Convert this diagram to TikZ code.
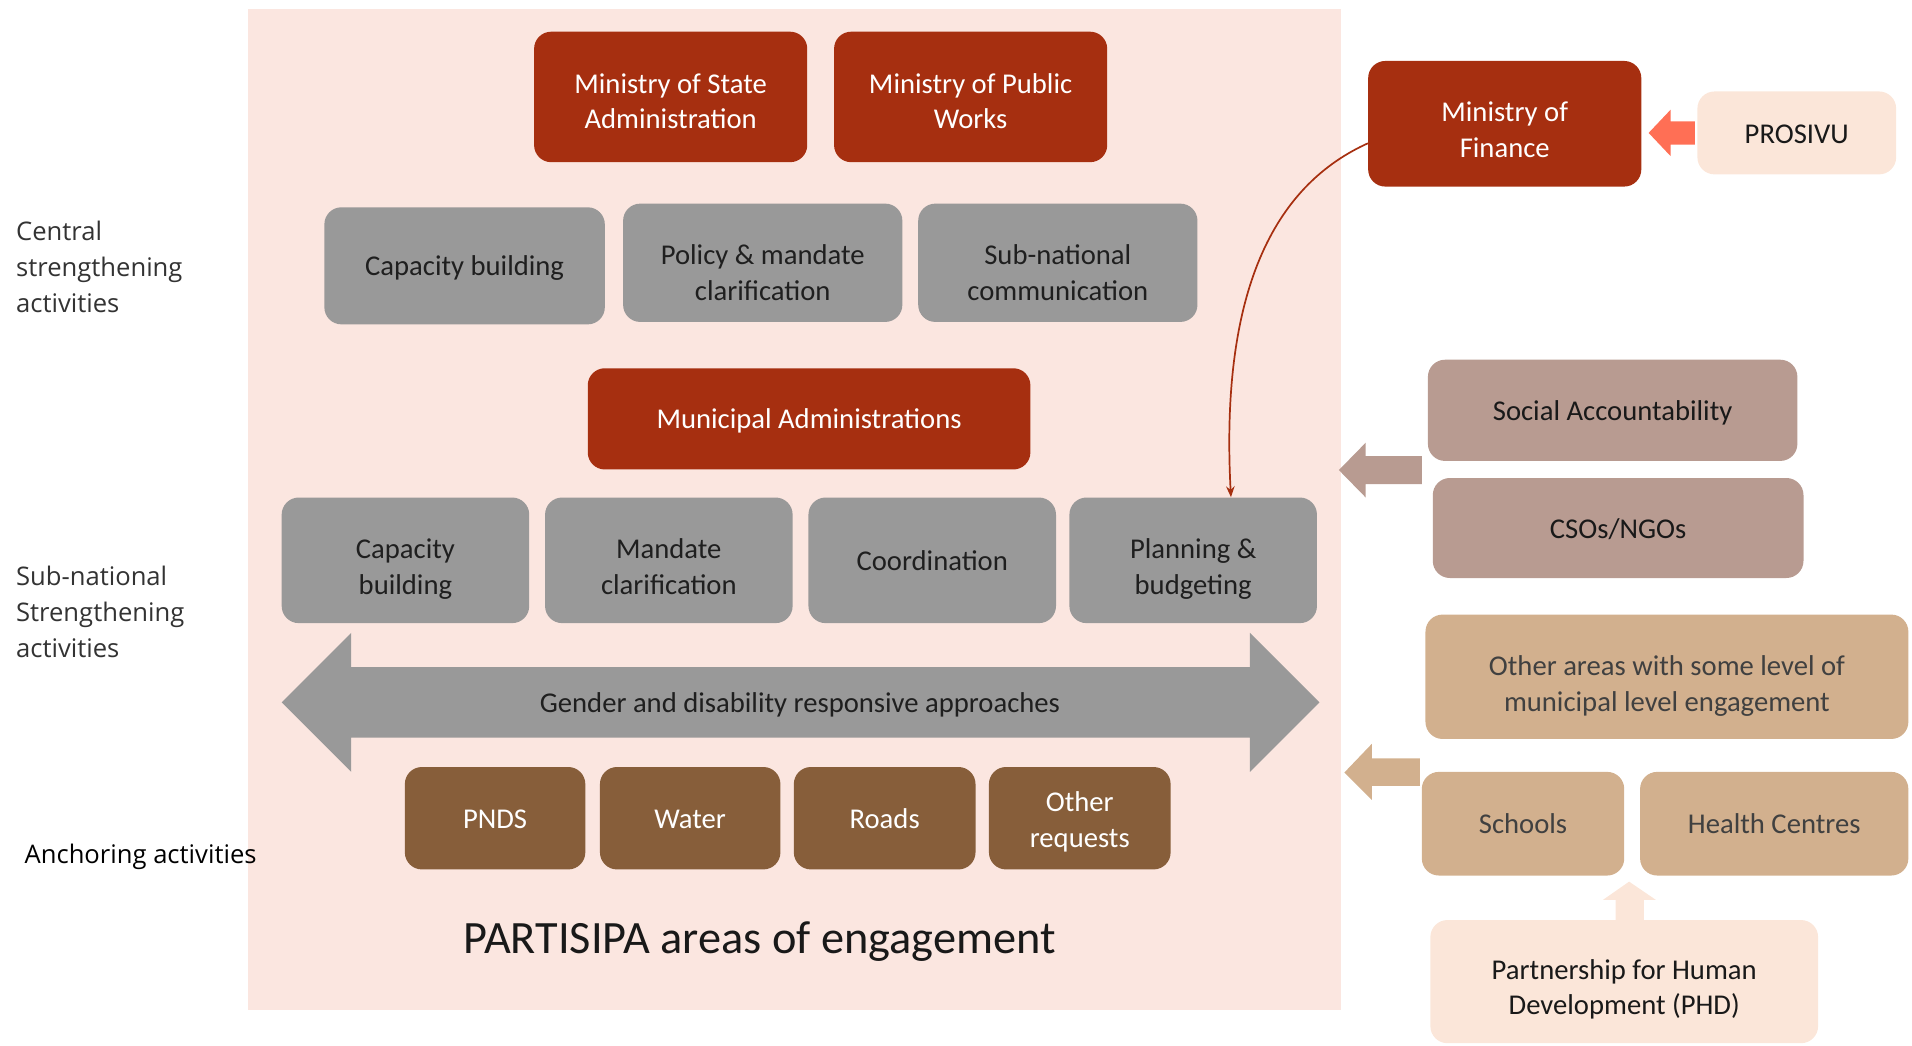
\documentclass[tikz,border=0pt]{standalone}
\usepackage{fontspec}
\setmainfont{Carlito}
\newfontfamily\sidefont{Open Sans}
\usetikzlibrary{calc,arrows.meta}

\definecolor{bgpink}{RGB}{251,230,224}
\definecolor{deepred}{RGB}{166,47,16}
\definecolor{midgray}{RGB}{153,153,153}
\definecolor{umber}{RGB}{135,94,58}
\definecolor{peach}{RGB}{251,230,217}
\definecolor{salmon}{RGB}{255,111,85}
\definecolor{taupe}{RGB}{184,155,145}
\definecolor{sandtan}{RGB}{210,176,142}

% vertical offset (pt) of a box's text below the box centre, and its line count
\def\tdrop{1}
\def\nlines{1}

\tikzset{
  tdrop/.code={\def\tdrop{#1}},
  nlines/.code={\def\nlines{#1}},
  base/.style={rectangle, rounded corners=14pt, align=center, inner sep=0pt,
    font=\fontsize{23.5}{29}\selectfont,
    execute at begin node={\rule{0pt}{\dimexpr23.3pt+29pt*\numexpr\nlines-1\relax+\tdrop pt*2\relax}},
    execute at end node={\rule[-8.7pt]{0pt}{8.7pt}}},
  two/.style={nlines=2},
  redbox/.style={base, fill=deepred, text=white},
  graybox/.style={base, fill=midgray, text=black!88},
  brownbox/.style={base, fill=umber, text=white},
  peachbox/.style={base, fill=peach, text=black!90},
  taupebox/.style={base, fill=taupe, text=black!90},
  tanbox/.style={base, fill=sandtan, text=black!75},
  sidelabel/.style={align=left, anchor=west, inner sep=0pt,
    font=\sidefont\fontsize{21}{29.5}\selectfont},
  sz/.style 2 args={minimum width=#1, minimum height=#2},
}

\begin{document}
\begin{tikzpicture}[x=1pt, y=-1pt]
\useasboundingbox (0,0) rectangle (1568,857);

% engagement area
\fill[bgpink] (203,7) rectangle (1100,828);

% central level
\node[redbox, sz={224}{107}, two, tdrop=4] (msa) at (550,79.5) {Ministry of State\\Administration};
\node[redbox, sz={224}{107}, two, tdrop=4] (mpw) at (796,79.5) {Ministry of Public\\Works};

\node[graybox, sz={230}{96}] (cb1) at (381,218) {Capacity building};
\node[graybox, sz={229}{97}, two, tdrop=9] (pol) at (625.5,215.5) {Policy \& mandate\\clarification};
\node[graybox, sz={229}{97}, two, tdrop=9] (sub) at (867.5,215.5) {Sub-national\\communication};

% municipal level
\node[redbox, sz={363}{83}] (mun) at (663.5,343.5) {Municipal Administrations};

\node[graybox, sz={203}{103}, two, tdrop=6] (cb2) at (332.5,459.5) {Capacity\\building};
\node[graybox, sz={203}{103}, two, tdrop=6] (man) at (548.5,459.5) {Mandate\\clarification};
\node[graybox, sz={203}{103}] (coo) at (764.5,459.5) {Coordination};
\node[graybox, sz={203}{103}, two, tdrop=6] (pla) at (978.5,459.5) {Planning \&\\budgeting};

% cross-cutting double arrow
\fill[midgray] (231,576) -- (288,519) -- (288,547) -- (1025,547) -- (1025,519)
  -- (1082,576) -- (1025,633) -- (1025,605) -- (288,605) -- (288,633) -- cycle;
\node[base, text=black!88] (gen) at (656,576) {Gender and disability responsive approaches};

% anchoring activities
\node[brownbox, sz={148}{84}] (pnds) at (406,671) {PNDS};
\node[brownbox, sz={148}{84}] (wat) at (566,671) {Water};
\node[brownbox, sz={149}{84}] (roa) at (725.5,671) {Roads};
\node[brownbox, sz={149}{84}, two, tdrop=2] (oth) at (885.5,671) {Other\\requests};

\node[inner sep=0pt, text=black!90, font=\fontsize{38}{46}\selectfont] (ttl) at (623,772)
  {PARTISIPA areas of engagement};

% row labels
\node[sidelabel, text=black!80] (lc) at (13,219) {Central\\strengthening\\activities};
\node[sidelabel, text=black!80] (ls) at (13,502) {Sub-national\\Strengthening\\activities};
\node[sidelabel, text=black] (la) at (20,703) {Anchoring activities};

% finance and partners
\node[redbox, sz={224}{103}, two, tdrop=5.5] (mof) at (1234,101.5) {Ministry of\\Finance};
\node[peachbox, sz={163}{68}] (pro) at (1473.5,109) {PROSIVU};
\fill[salmon] (1352,109) -- (1370,90) -- (1370,99.5) -- (1390,99.5) -- (1390,118.5)
  -- (1370,118.5) -- (1370,128) -- cycle;

\draw[deepred, line width=1.4pt, -{Stealth[length=9pt,width=7pt]}]
  ($(mof.west)+(0,16)$) .. controls (1050,150) and (1000,230) .. ($(pla.north)+(31,0)$);

\node[taupebox, sz={303}{83}] (soc) at (1322.5,336.5) {Social Accountability};
\node[taupebox, sz={304}{82}] (cso) at (1327,433) {CSOs/NGOs};
\fill[taupe] (1098,385.5) -- (1120,363) -- (1120,374) -- (1166,374) -- (1166,397)
  -- (1120,397) -- (1120,408) -- cycle;

\node[tanbox, sz={396}{102}, two, tdrop=6.5] (oa) at (1367,555) {Other areas with some level of\\municipal level engagement};
\node[tanbox, sz={166}{85}] (sch) at (1249,675.5) {Schools};
\node[tanbox, sz={220}{85}] (hc) at (1455,675.5) {Health Centres};
\fill[sandtan] (1102.5,633.5) -- (1125,610) -- (1125,622) -- (1164.5,622) -- (1164.5,644.5)
  -- (1125,644.5) -- (1125,656) -- cycle;

\node[peachbox, sz={318}{101}, two, tdrop=5.5] (phd) at (1332,805) {Partnership for Human\\Development (PHD)};
\fill[peach] (1336,723) -- (1358,738) -- (1348,738) -- (1348,755) -- (1325,755)
  -- (1325,738) -- (1314.5,738) -- cycle;
\end{tikzpicture}
\end{document}
